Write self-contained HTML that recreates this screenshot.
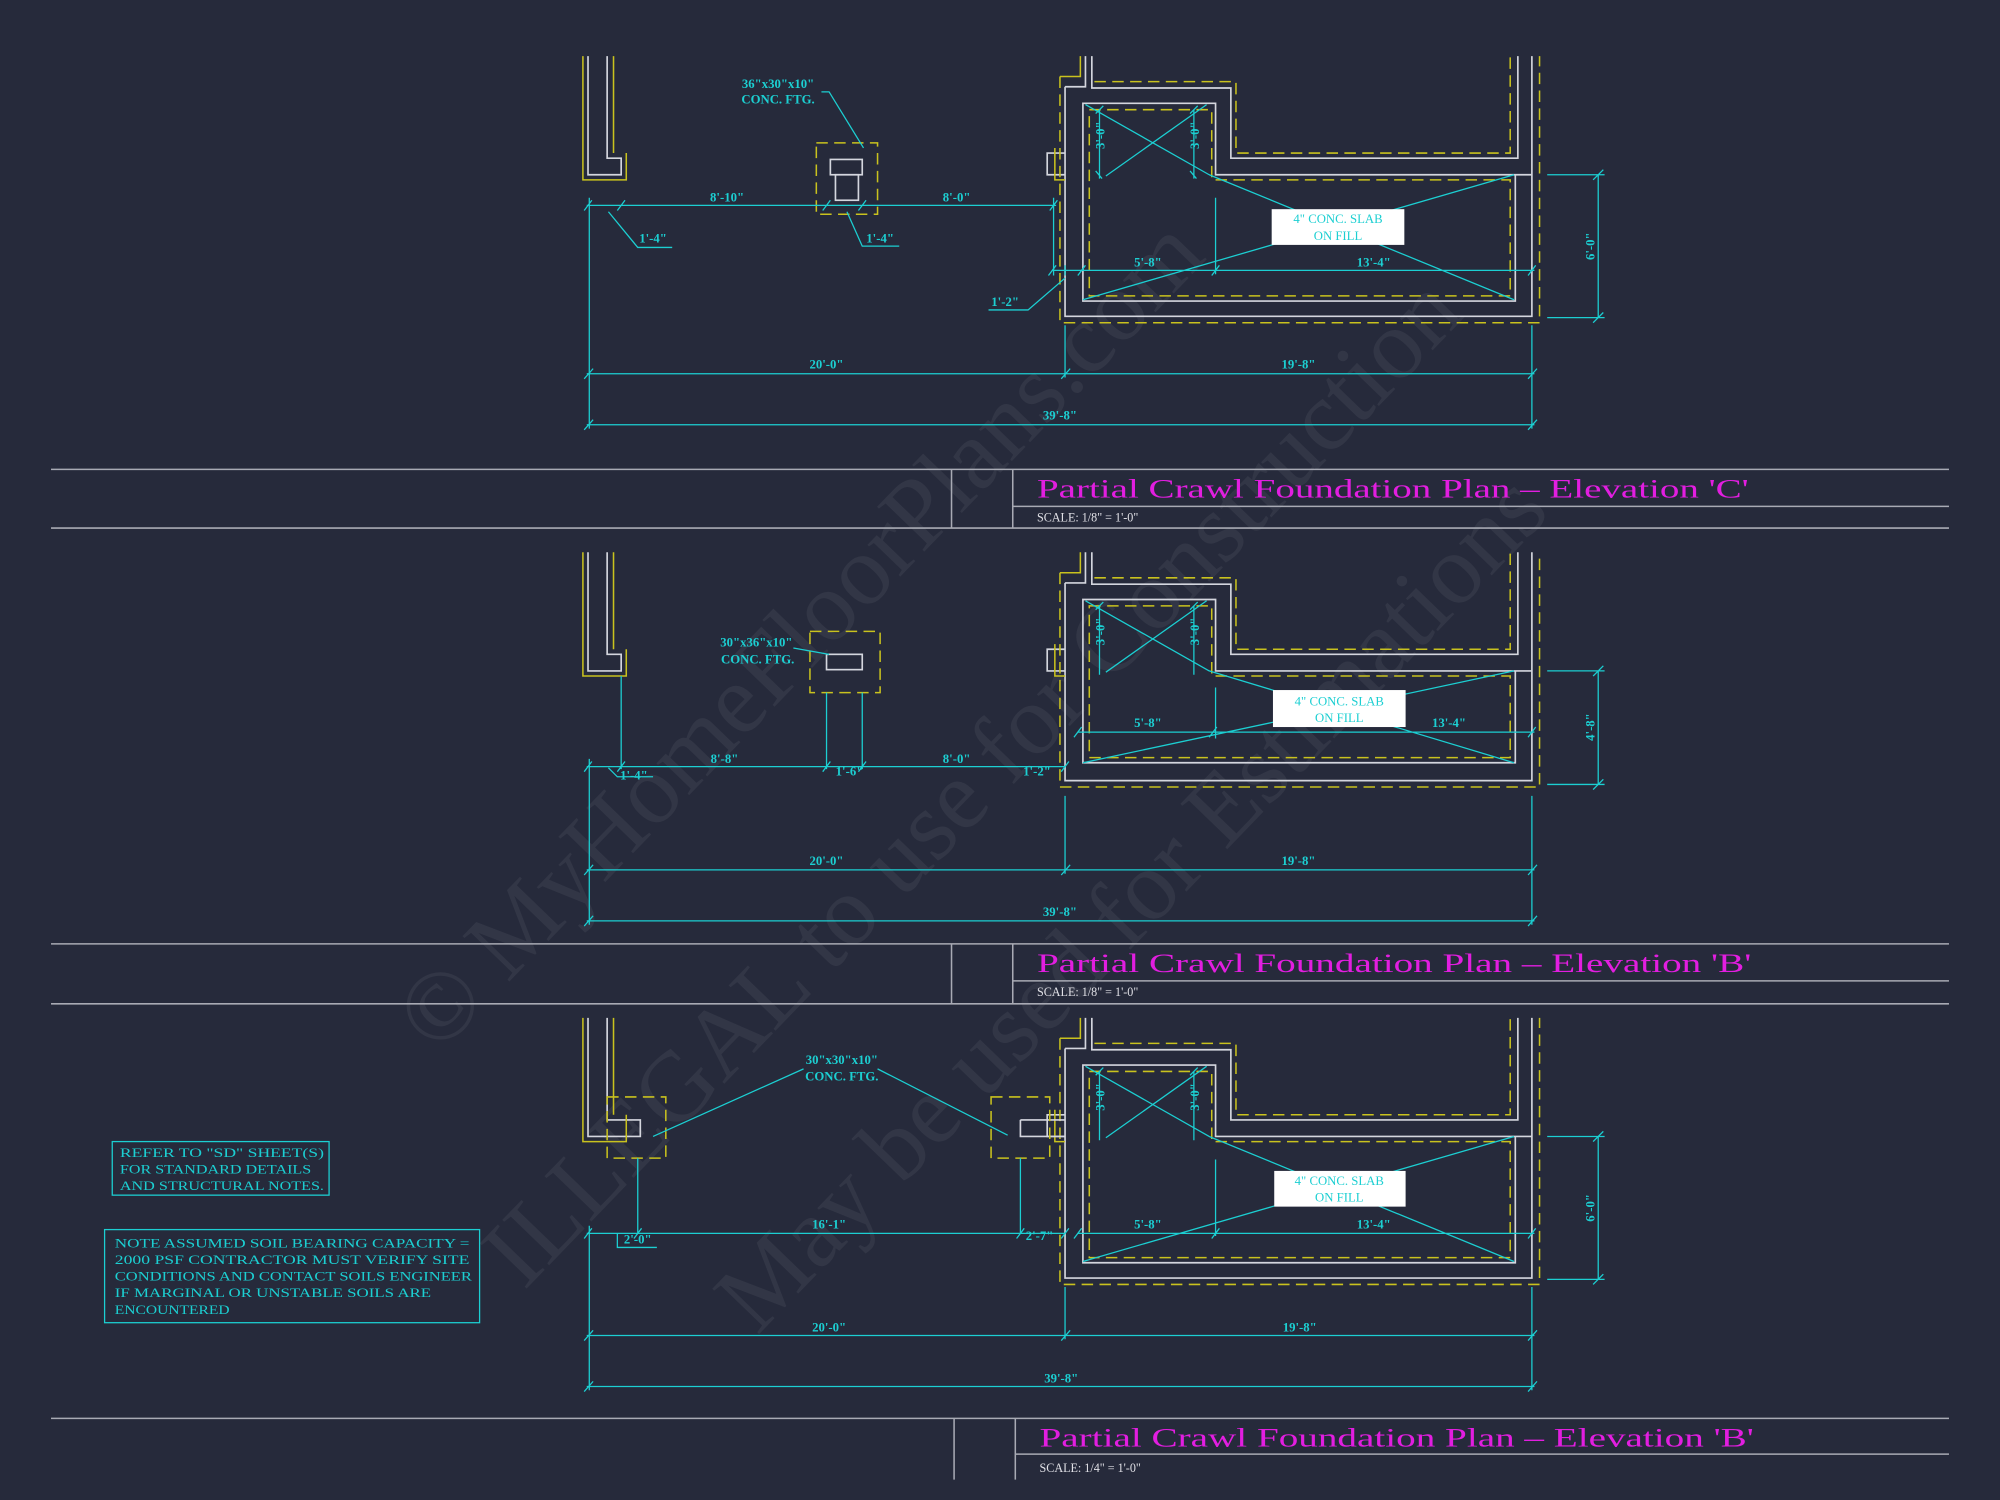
<!DOCTYPE html>
<html><head><meta charset="utf-8"><style>
html,body{margin:0;padding:0;background:#262a3b;}
svg{display:block}
.w{stroke:#d4d6de;stroke-width:1.3;fill:none}
.y{stroke:#c9c21e;stroke-width:1.2;fill:none;stroke-dasharray:9 5}
.ys{stroke:#c9c21e;stroke-width:1.2;fill:none}
.c{stroke:#1ccfd2;stroke-width:1;fill:none}
.t{fill:#1ccfd2;font-family:"Liberation Serif",serif;font-size:10px;font-weight:bold}
.tm{fill:#1ccfd2;font-family:"Liberation Serif",serif;font-size:10px}
.g{stroke:#a8aab4;stroke-width:1.2;fill:none}
.title{fill:#e21ee0;font-family:"Liberation Serif",serif;font-size:21px}
.sc{fill:#e0e0e6;font-family:"Liberation Serif",serif;font-size:9.5px}
.wm{fill:rgba(255,255,255,0.06);font-family:"Liberation Serif",serif;font-size:78px}
</style></head><body>
<svg width="2000" height="1500" viewBox="0 0 1568 1176" xmlns="http://www.w3.org/2000/svg">
<rect width="1568" height="1176" fill="#262a3b"/>

<text class="wm" transform="translate(645,515) rotate(-46)" text-anchor="middle">© MyHomeFloorPlans.com</text>
<text class="wm" transform="translate(780,630) rotate(-46)" text-anchor="middle">ILLEGAL to use for Construction</text>
<text class="wm" transform="translate(905,725) rotate(-46)" text-anchor="middle">May be used for Estimations</text>

<g>
<path class="w" d="M835,68 V248 H1201 V44 M835,68 H851 V44 M856,44 V69 H965 V124 H1190 V44 M835,120 H821 V137 H835 M849,81 V236 H1188 V137 H953 V81 Z M1188,137 H1201"/>
<path class="y" d="M831,60 V253 H1207 V44 M858,64 H969 V120 H1184 V44 M854,86 H950 V141 H1184 V232 H854 Z"/>
<path class="ys" d="M831,60 H847 V44 M827,116 V141 H835"/>
<path class="c" d="M851,82 L948,137 M946,82 L867,138 M948,137 L1187,235 M1187,137 L849,235 M825,212 H1203 M835,208 V216 M1201,255 V336 M835,255 V296"/>
<path class="c" d="M822,216 l6,-8 M845,216 l6,-8 M950,216 l6,-8 M1198,216 l6,-8 M953,155 V215 M862,86 V140 M936,86 V140 M859,89 l6,-6 M933,89 l6,-6 M864,140 l-5,-6 M938,140 l-5,-6"/>
<rect x="997" y="164" width="104" height="28" fill="#fff"/>
<text class="tm" x="1049" y="175" text-anchor="middle">4" CONC. SLAB</text>
<text class="tm" x="1049" y="188" text-anchor="middle">ON FILL</text>
<text class="t" x="900" y="209" text-anchor="middle">5'-8"</text>
<text class="t" x="1077" y="209" text-anchor="middle">13'-4"</text>
<text class="t" transform="translate(866,106) rotate(-90)" text-anchor="middle">3'-0"</text>
<text class="t" transform="translate(940,106) rotate(-90)" text-anchor="middle">3'-0"</text>
</g>

<path class="w" d="M461,44 V137 H487 V124 H476 V44"/>
<path class="ys" d="M457,44 V141 H491 V120 M481,44 V120"/>
<rect class="y" x="640" y="112" width="48" height="56"/>
<rect class="w" x="651" y="125" width="25" height="12"/>
<rect class="w" x="655" y="137" width="18" height="20"/>
<text class="t" x="610" y="69" text-anchor="middle">36"x30"x10"</text>
<text class="t" x="610" y="81" text-anchor="middle">CONC. FTG.</text>
<path class="c" d="M644,72 H650 L677,116"/>
<path class="c" d="M460,161 H828 M458,165 l6,-8 M484,165 l6,-8 M645,165 l6,-8 M673,165 l6,-8 M823,165 l6,-8 M826,155 V216 M462,155 V336 M477,166 L500,194 H527 M664,166 L676,193 H705 M835,218 L806,243 H775"/>
<text class="t" x="570" y="158" text-anchor="middle">8'-10"</text>
<text class="t" x="750" y="158" text-anchor="middle">8'-0"</text>
<text class="t" x="512" y="190" text-anchor="middle">1'-4"</text>
<text class="t" x="690" y="190" text-anchor="middle">1'-4"</text>
<text class="t" x="788" y="240" text-anchor="middle">1'-2"</text>
<path class="c" d="M1213,137 H1258 M1213,249 H1258 M1253,137 V249 M1249,141 l8,-8 M1249,253 l8,-8"/>
<text class="t" transform="translate(1250,193) rotate(-90)" text-anchor="middle">6'-0"</text>
<path class="c" d="M460,293 H1203 M460,333 H1203 M458,297 l7,-8 M832,297 l7,-8 M1198,297 l7,-8 M458,337 l7,-8 M1198,337 l7,-8"/>
<text class="t" x="648" y="289" text-anchor="middle">20'-0"</text>
<text class="t" x="1018" y="289" text-anchor="middle">19'-8"</text>
<text class="t" x="831" y="329" text-anchor="middle">39'-8"</text>

<path class="g" d="M40,368 H1528 M40,414 H1528 M746,368 V414 M794,368 V414 M746,368 H794 M794,397 H1528"/>
<text class="title" x="813" y="390" textLength="558" lengthAdjust="spacingAndGlyphs">Partial  Crawl  Foundation  Plan  –  Elevation  'C'</text>
<text class="sc" x="813" y="409">SCALE: 1/8" = 1'-0"</text>

<g transform="translate(0,389)">
<path class="w" d="M835,68 V223 H1201 V44 M835,68 H851 V44 M856,44 V69 H965 V124 H1190 V44 M835,120 H821 V137 H835 M849,81 V209 H1188 V137 H953 V81 Z M1188,137 H1201"/>
<path class="y" d="M831,60 V228 H1207 V44 M858,64 H969 V120 H1184 V44 M854,86 H950 V141 H1184 V205 H854 Z"/>
<path class="ys" d="M831,60 H847 V44 M827,116 V141 H835"/>
<path class="c" d="M851,82 L948,137 M946,82 L867,138 M948,137 L1187,209 M1187,137 L849,209 M845,185 H1203 M953,150 V190 M842,189 l6,-8 M948,189 l6,-8 M1198,189 l6,-8 M862,86 V140 M936,86 V140 M859,89 l6,-6 M933,89 l6,-6"/>
<rect x="998" y="152" width="104" height="29" fill="#fff"/>
<text class="tm" x="1050" y="164" text-anchor="middle">4" CONC. SLAB</text>
<text class="tm" x="1050" y="177" text-anchor="middle">ON FILL</text>
<text class="t" x="900" y="181" text-anchor="middle">5'-8"</text>
<text class="t" x="1136" y="181" text-anchor="middle">13'-4"</text>
<text class="t" transform="translate(866,106) rotate(-90)" text-anchor="middle">3'-0"</text>
<text class="t" transform="translate(940,106) rotate(-90)" text-anchor="middle">3'-0"</text>
<path class="w" d="M461,44 V137 H487 V124 H476 V44"/>
<path class="ys" d="M457,44 V141 H491 V120 M481,44 V120"/>
<rect class="y" x="635" y="106" width="55" height="48"/>
<rect class="w" x="648" y="124" width="28" height="12"/>
<path class="c" d="M622,119 L650,124 M648,154 V214 M676,154 V214 M487,141 V214 M460,212 H835 M458,216 l6,-8 M484,216 l6,-8 M645,216 l6,-8 M673,216 l6,-8 M832,216 l6,-8 M462,206 V336 M477,213 L484,220 H512 M1213,137 H1258 M1213,226 H1258 M1253,137 V226 M1249,141 l8,-8 M1249,230 l8,-8 M835,235 V296 M1201,235 V336"/>
<text class="t" x="593" y="118" text-anchor="middle">30"x36"x10"</text>
<text class="t" x="594" y="131" text-anchor="middle">CONC. FTG.</text>
<text class="t" x="568" y="209" text-anchor="middle">8'-8"</text>
<text class="t" x="750" y="209" text-anchor="middle">8'-0"</text>
<text class="t" x="666" y="219" text-anchor="middle">1'-6"</text>
<text class="t" x="497" y="222" text-anchor="middle">1'-4"</text>
<text class="t" x="813" y="219" text-anchor="middle">1'-2"</text>
<text class="t" transform="translate(1250,181) rotate(-90)" text-anchor="middle">4'-8"</text>
<path class="c" d="M460,293 H1203 M460,333 H1203 M458,297 l7,-8 M832,297 l7,-8 M1198,297 l7,-8 M458,337 l7,-8 M1198,337 l7,-8"/>
<text class="t" x="648" y="289" text-anchor="middle">20'-0"</text>
<text class="t" x="1018" y="289" text-anchor="middle">19'-8"</text>
<text class="t" x="831" y="329" text-anchor="middle">39'-8"</text>
</g>

<path class="g" d="M40,740 H1528 M40,787 H1528 M746,740 V787 M794,740 V787 M794,769 H1528"/>
<text class="title" x="813" y="762" textLength="560" lengthAdjust="spacingAndGlyphs">Partial  Crawl  Foundation  Plan  –  Elevation  'B'</text>
<text class="sc" x="813" y="781">SCALE: 1/8" = 1'-0"</text>

<g transform="translate(0,754)">
<path class="w" d="M835,68 V248 H1201 V44 M835,68 H851 V44 M856,44 V69 H965 V124 H1190 V44 M835,120 H821 V137 H835 M849,81 V236 H1188 V137 H953 V81 Z M1188,137 H1201"/>
<path class="y" d="M831,60 V253 H1207 V44 M858,64 H969 V120 H1184 V44 M854,86 H950 V141 H1184 V232 H854 Z"/>
<path class="ys" d="M831,60 H847 V44 M827,116 V141 H835"/>
<path class="c" d="M851,82 L948,137 M946,82 L867,138 M948,137 L1187,235 M1187,137 L849,235 M845,213 H1203 M953,155 V215 M842,217 l6,-8 M950,217 l6,-8 M1198,217 l6,-8 M862,86 V140 M936,86 V140 M859,89 l6,-6 M933,89 l6,-6"/>
<rect x="999" y="164" width="103" height="28" fill="#fff"/>
<text class="tm" x="1050" y="175" text-anchor="middle">4" CONC. SLAB</text>
<text class="tm" x="1050" y="188" text-anchor="middle">ON FILL</text>
<text class="t" x="900" y="209" text-anchor="middle">5'-8"</text>
<text class="t" x="1077" y="209" text-anchor="middle">13'-4"</text>
<text class="t" transform="translate(866,106) rotate(-90)" text-anchor="middle">3'-0"</text>
<text class="t" transform="translate(940,106) rotate(-90)" text-anchor="middle">3'-0"</text>
<path class="w" d="M461,44 V137 H502 V124 H476 V44 M800,124 H835 M800,124 V137 H835"/>
<path class="ys" d="M457,44 V141 H491 V120 M481,44 V120"/>
<rect class="y" x="476" y="106" width="46" height="48"/>
<rect class="y" x="777" y="106" width="46" height="48"/>
<path class="c" d="M630,84 L512,137 M688,84 L790,136 M500,154 V213 M800,154 V213 M460,213 H835 M458,217 l6,-8 M497,217 l6,-8 M797,217 l6,-8 M832,217 l6,-8 M462,207 V336 M484,213 V224 H515 M1213,137 H1258 M1213,249 H1258 M1253,137 V249 M1249,141 l8,-8 M1249,253 l8,-8 M835,255 V296 M1201,255 V336"/>
<text class="t" x="660" y="80" text-anchor="middle">30"x30"x10"</text>
<text class="t" x="660" y="93" text-anchor="middle">CONC. FTG.</text>
<text class="t" x="650" y="209" text-anchor="middle">16'-1"</text>
<text class="t" x="500" y="221" text-anchor="middle">2'-0"</text>
<text class="t" x="815" y="218" text-anchor="middle">2'-7"</text>
<text class="t" transform="translate(1250,193) rotate(-90)" text-anchor="middle">6'-0"</text>
<path class="c" d="M460,293 H1203 M460,333 H1203 M458,297 l7,-8 M832,297 l7,-8 M1198,297 l7,-8 M458,337 l7,-8 M1198,337 l7,-8"/>
<text class="t" x="650" y="290" text-anchor="middle">20'-0"</text>
<text class="t" x="1019" y="290" text-anchor="middle">19'-8"</text>
<text class="t" x="832" y="330" text-anchor="middle">39'-8"</text>
</g>

<path class="g" d="M40,1112 H1528 M748,1112 V1160 M796,1112 V1160 M796,1140 H1528"/>
<text class="title" x="815" y="1134" textLength="560" lengthAdjust="spacingAndGlyphs">Partial  Crawl  Foundation  Plan  –  Elevation  'B'</text>
<text class="sc" x="815" y="1154">SCALE: 1/4" = 1'-0"</text>

<rect class="c" x="88" y="895" width="170" height="42"/>
<text class="tm" x="94" y="907" textLength="160" lengthAdjust="spacingAndGlyphs">REFER TO "SD" SHEET(S)</text>
<text class="tm" x="94" y="920" textLength="150" lengthAdjust="spacingAndGlyphs">FOR STANDARD DETAILS</text>
<text class="tm" x="94" y="933" textLength="160" lengthAdjust="spacingAndGlyphs">AND STRUCTURAL NOTES.</text>
<rect class="c" x="82" y="964" width="294" height="73"/>
<text class="tm" x="90" y="978" textLength="278" lengthAdjust="spacingAndGlyphs">NOTE ASSUMED SOIL BEARING CAPACITY =</text>
<text class="tm" x="90" y="991" textLength="278" lengthAdjust="spacingAndGlyphs">2000 PSF CONTRACTOR MUST VERIFY SITE</text>
<text class="tm" x="90" y="1004" textLength="280" lengthAdjust="spacingAndGlyphs">CONDITIONS AND CONTACT SOILS ENGINEER</text>
<text class="tm" x="90" y="1017" textLength="248" lengthAdjust="spacingAndGlyphs">IF MARGINAL OR UNSTABLE SOILS ARE</text>
<text class="tm" x="90" y="1030" textLength="90" lengthAdjust="spacingAndGlyphs">ENCOUNTERED</text>
</svg>
</body></html>
